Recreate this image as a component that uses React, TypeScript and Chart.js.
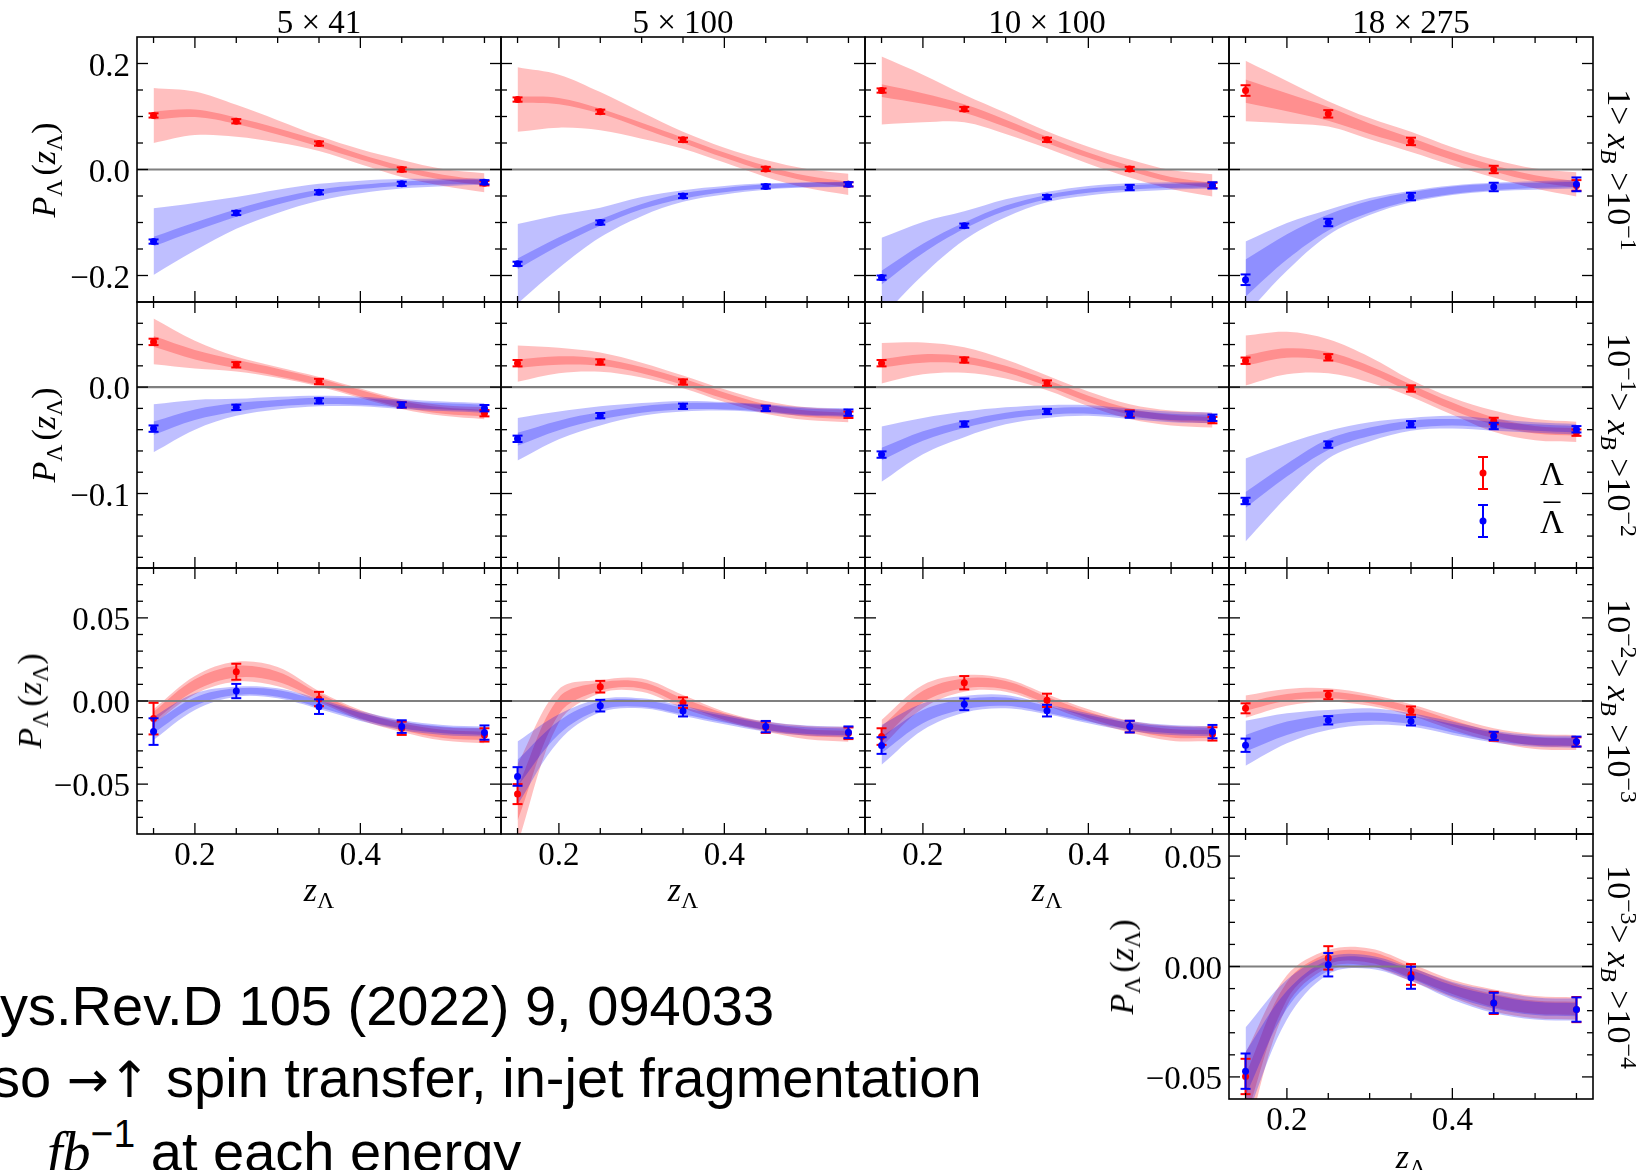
import React, { useEffect, useRef } from "react";
import { Chart, registerables } from "chart.js";

Chart.register(...registerables);

// ---------------- data ----------------
const Z_POINTS = [0.15, 0.25, 0.35, 0.45, 0.55];
const Z_CURVE = [0.15, 0.2, 0.25, 0.3, 0.35, 0.4, 0.45, 0.5, 0.55];

const COLUMN_TITLES = ["5 × 41", "5 × 100", "10 × 100", "18 × 275"];

// panel order: 0-3 row 1 (1>xB>1e-1), 4-7 row 2, 8-11 row 3, 12 row 4 (18×275 only)
const LAMBDA_PTS = [
  [0.102, 0.091, 0.049, 0.0, -0.026],
  [0.132, 0.109, 0.056, 0.001, -0.028],
  [0.149, 0.114, 0.056, 0.001, -0.03],
  [0.149, 0.105, 0.053, 0.0, -0.03],
  [0.0425, 0.021, 0.0053, -0.0167, -0.0245],
  [0.0225, 0.0236, 0.0048, -0.02, -0.026],
  [0.0225, 0.0255, 0.0038, -0.0248, -0.031],
  [0.0248, 0.028, -0.0013, -0.0318, -0.0428],
  [-0.0106, 0.0176, 0.0012, -0.0164, -0.0204],
  [-0.056, 0.0086, -0.001, -0.0158, -0.0194],
  [-0.0214, 0.011, 0.0004, -0.0154, -0.0198],
  [-0.0044, 0.0036, -0.0058, -0.0214, -0.0246],
  [-0.0498, 0.0039, -0.0036, -0.0165, -0.0195],
];
const LAMBDA_ERR = [
  [0.004, 0.004, 0.004, 0.004, 0.004],
  [0.004, 0.004, 0.004, 0.004, 0.004],
  [0.004, 0.004, 0.004, 0.004, 0.005],
  [0.01, 0.007, 0.007, 0.007, 0.01],
  [0.003, 0.0025, 0.0025, 0.0025, 0.003],
  [0.003, 0.0025, 0.0025, 0.0025, 0.003],
  [0.003, 0.0025, 0.0025, 0.003, 0.003],
  [0.003, 0.003, 0.003, 0.003, 0.003],
  [0.0095, 0.0048, 0.0043, 0.004, 0.004],
  [0.006, 0.0035, 0.0032, 0.0034, 0.0035],
  [0.005, 0.004, 0.004, 0.0035, 0.004],
  [0.003, 0.0025, 0.0025, 0.0025, 0.0028],
  [0.008, 0.0053, 0.0047, 0.005, 0.0057],
];
const ALAMBDA_PTS = [
  [-0.136, -0.082, -0.043, -0.027, -0.024],
  [-0.178, -0.1, -0.05, -0.032, -0.028],
  [-0.204, -0.106, -0.052, -0.034, -0.03],
  [-0.208, -0.1, -0.051, -0.033, -0.028],
  [-0.039, -0.019, -0.0129, -0.0167, -0.0198],
  [-0.0486, -0.0268, -0.018, -0.02, -0.024],
  [-0.0634, -0.0347, -0.0229, -0.0258, -0.0288],
  [-0.107, -0.054, -0.0349, -0.0365, -0.0396],
  [-0.0184, 0.006, -0.0034, -0.0154, -0.019],
  [-0.0454, -0.0028, -0.006, -0.0154, -0.0188],
  [-0.0268, -0.002, -0.0058, -0.0154, -0.0184],
  [-0.0266, -0.0116, -0.0122, -0.021, -0.0244],
  [-0.0474, 0.0008, -0.0051, -0.0165, -0.0195],
];
const ALAMBDA_ERR = [
  [0.004, 0.004, 0.004, 0.004, 0.004],
  [0.004, 0.004, 0.004, 0.004, 0.004],
  [0.004, 0.004, 0.004, 0.005, 0.006],
  [0.01, 0.007, 0.007, 0.008, 0.013],
  [0.003, 0.0025, 0.0025, 0.0025, 0.003],
  [0.003, 0.0025, 0.0025, 0.0025, 0.003],
  [0.003, 0.0025, 0.0025, 0.003, 0.003],
  [0.003, 0.003, 0.003, 0.003, 0.003],
  [0.008, 0.0043, 0.0044, 0.0038, 0.0043],
  [0.0056, 0.0035, 0.0033, 0.0034, 0.0035],
  [0.005, 0.0035, 0.0035, 0.0035, 0.004],
  [0.004, 0.0025, 0.0025, 0.0025, 0.003],
  [0.008, 0.0053, 0.005, 0.0046, 0.0055],
];

// theory bands on Z_CURVE: central value, outer and inner half-widths
const LAMBDA_MID = [
  [0.102, 0.106, 0.092, 0.072, 0.049, 0.024, 0.002, -0.015, -0.025],
  [0.132, 0.129, 0.11, 0.083, 0.055, 0.027, 0.002, -0.017, -0.028],
  [0.149, 0.134, 0.115, 0.087, 0.056, 0.027, 0.002, -0.019, -0.03],
  [0.148, 0.127, 0.105, 0.077, 0.052, 0.025, 0.002, -0.017, -0.028],
  [0.043, 0.0305, 0.0217, 0.0138, 0.005, -0.0057, -0.016, -0.022, -0.0245],
  [0.022, 0.025, 0.0235, 0.016, 0.005, -0.008, -0.019, -0.025, -0.027],
  [0.0225, 0.027, 0.0255, 0.017, 0.004, -0.011, -0.023, -0.029, -0.031],
  [0.025, 0.032, 0.029, 0.0164, -0.001, -0.018, -0.032, -0.04, -0.042],
  [-0.0094, 0.0096, 0.0176, 0.0146, 0.0026, -0.0084, -0.0154, -0.0198, -0.021],
  [-0.062, -0.003, 0.0086, 0.0095, -0.0004, -0.0094, -0.0154, -0.019, -0.02],
  [-0.0194, 0.0026, 0.0106, 0.0096, 0.0006, -0.0084, -0.0154, -0.0194, -0.0198],
  [-0.0034, 0.0022, 0.0036, 0.0006, -0.0054, -0.0134, -0.0204, -0.0244, -0.025],
  [-0.059, -0.011, 0.0035, 0.0042, -0.0026, -0.01, -0.0154, -0.0184, -0.019],
];
const LAMBDA_OUTER = [
  [0.052, 0.041, 0.03, 0.021, 0.014, 0.014, 0.016, 0.016, 0.018],
  [0.061, 0.05, 0.036, 0.025, 0.016, 0.014, 0.016, 0.018, 0.02],
  [0.064, 0.045, 0.026, 0.02, 0.016, 0.016, 0.017, 0.018, 0.021],
  [0.057, 0.04, 0.024, 0.02, 0.019, 0.017, 0.017, 0.019, 0.023],
  [0.0215, 0.013, 0.007, 0.005, 0.0045, 0.0045, 0.0045, 0.005, 0.0057],
  [0.017, 0.012, 0.009, 0.007, 0.006, 0.006, 0.006, 0.006, 0.006],
  [0.019, 0.015, 0.012, 0.009, 0.007, 0.007, 0.007, 0.007, 0.007],
  [0.0235, 0.02, 0.016, 0.012, 0.008, 0.008, 0.01, 0.01, 0.0095],
  [0.0045, 0.0055, 0.006, 0.0058, 0.0033, 0.003, 0.0032, 0.004, 0.0044],
  [0.024, 0.01, 0.004, 0.004, 0.004, 0.003, 0.003, 0.004, 0.0045],
  [0.008, 0.007, 0.005, 0.004, 0.0035, 0.0035, 0.0035, 0.0045, 0.0045],
  [0.0067, 0.005, 0.004, 0.0035, 0.0035, 0.004, 0.004, 0.0045, 0.0045],
  [0.02, 0.007, 0.004, 0.004, 0.004, 0.004, 0.005, 0.005, 0.005],
];
const LAMBDA_INNER = [
  [0.008, 0.007, 0.006, 0.006, 0.006, 0.005, 0.005, 0.005, 0.005],
  [0.006, 0.006, 0.005, 0.005, 0.005, 0.005, 0.005, 0.005, 0.005],
  [0.012, 0.01, 0.008, 0.007, 0.006, 0.005, 0.005, 0.005, 0.005],
  [0.022, 0.017, 0.013, 0.01, 0.008, 0.007, 0.006, 0.006, 0.006],
  [0.005, 0.0045, 0.004, 0.0035, 0.003, 0.003, 0.003, 0.003, 0.003],
  [0.004, 0.004, 0.0035, 0.003, 0.003, 0.003, 0.003, 0.003, 0.003],
  [0.004, 0.004, 0.0035, 0.003, 0.003, 0.003, 0.003, 0.003, 0.003],
  [0.005, 0.0045, 0.004, 0.0035, 0.0035, 0.0035, 0.0035, 0.0035, 0.0035],
  [0.003, 0.0035, 0.0035, 0.003, 0.002, 0.002, 0.002, 0.0025, 0.0025],
  [0.01, 0.005, 0.0025, 0.002, 0.002, 0.002, 0.002, 0.002, 0.002],
  [0.004, 0.0035, 0.003, 0.0025, 0.002, 0.002, 0.002, 0.0025, 0.0025],
  [0.0025, 0.002, 0.002, 0.002, 0.002, 0.002, 0.002, 0.0025, 0.0025],
  [0.01, 0.004, 0.0025, 0.0025, 0.0025, 0.0025, 0.003, 0.003, 0.003],
];
const ALAMBDA_MID = [
  [-0.136, -0.108, -0.082, -0.06, -0.043, -0.033, -0.027, -0.0245, -0.023],
  [-0.178, -0.136, -0.1, -0.07, -0.05, -0.039, -0.032, -0.029, -0.028],
  [-0.204, -0.149, -0.106, -0.073, -0.052, -0.04, -0.034, -0.031, -0.03],
  [-0.205, -0.146, -0.1, -0.07, -0.051, -0.039, -0.033, -0.03, -0.028],
  [-0.0387, -0.026, -0.019, -0.015, -0.013, -0.0135, -0.016, -0.018, -0.0195],
  [-0.049, -0.036, -0.027, -0.021, -0.018, -0.018, -0.02, -0.023, -0.024],
  [-0.063, -0.046, -0.035, -0.027, -0.023, -0.022, -0.025, -0.028, -0.029],
  [-0.106, -0.078, -0.054, -0.042, -0.035, -0.033, -0.0355, -0.038, -0.0396],
  [-0.0164, -0.0004, 0.0056, 0.0046, -0.0018, -0.009, -0.0144, -0.0174, -0.0184],
  [-0.0434, -0.016, -0.0028, -0.0014, -0.006, -0.011, -0.0154, -0.0178, -0.0186],
  [-0.0264, -0.0094, -0.002, -0.0004, -0.005, -0.0104, -0.015, -0.0174, -0.0182],
  [-0.0254, -0.0164, -0.0114, -0.0094, -0.0114, -0.0164, -0.0214, -0.024, -0.0246],
  [-0.0486, -0.015, 0.0005, 0.002, -0.0036, -0.011, -0.016, -0.019, -0.0195],
];
const ALAMBDA_OUTER = [
  [0.063, 0.045, 0.03, 0.022, 0.016, 0.012, 0.009, 0.007, 0.006],
  [0.075, 0.05, 0.028, 0.018, 0.011, 0.008, 0.006, 0.005, 0.005],
  [0.075, 0.05, 0.027, 0.017, 0.01, 0.009, 0.008, 0.007, 0.006],
  [0.069, 0.045, 0.024, 0.016, 0.011, 0.009, 0.008, 0.008, 0.008],
  [0.0225, 0.014, 0.008, 0.006, 0.005, 0.0045, 0.0045, 0.0045, 0.0045],
  [0.02, 0.013, 0.009, 0.006, 0.005, 0.004, 0.004, 0.004, 0.004],
  [0.026, 0.017, 0.012, 0.008, 0.006, 0.005, 0.005, 0.005, 0.005],
  [0.039, 0.025, 0.013, 0.009, 0.006, 0.006, 0.0055, 0.005, 0.005],
  [0.007, 0.005, 0.003, 0.003, 0.003, 0.003, 0.003, 0.003, 0.003],
  [0.019, 0.008, 0.004, 0.003, 0.003, 0.003, 0.003, 0.003, 0.003],
  [0.012, 0.008, 0.005, 0.004, 0.003, 0.003, 0.003, 0.003, 0.003],
  [0.0135, 0.009, 0.006, 0.005, 0.004, 0.004, 0.0035, 0.0035, 0.0035],
  [0.021, 0.009, 0.004, 0.003, 0.003, 0.004, 0.005, 0.005, 0.005],
];
const ALAMBDA_INNER = [
  [0.009, 0.008, 0.007, 0.006, 0.005, 0.004, 0.004, 0.004, 0.004],
  [0.01, 0.008, 0.006, 0.005, 0.005, 0.004, 0.004, 0.004, 0.004],
  [0.013, 0.009, 0.006, 0.005, 0.004, 0.004, 0.004, 0.004, 0.004],
  [0.035, 0.024, 0.015, 0.011, 0.008, 0.007, 0.006, 0.005, 0.005],
  [0.0063, 0.005, 0.004, 0.003, 0.003, 0.003, 0.003, 0.003, 0.003],
  [0.006, 0.0045, 0.0035, 0.003, 0.003, 0.003, 0.003, 0.003, 0.003],
  [0.006, 0.0045, 0.0035, 0.003, 0.003, 0.003, 0.003, 0.003, 0.003],
  [0.0075, 0.006, 0.005, 0.004, 0.0035, 0.003, 0.003, 0.003, 0.003],
  [0.003, 0.0025, 0.002, 0.002, 0.002, 0.002, 0.002, 0.002, 0.002],
  [0.008, 0.004, 0.0025, 0.002, 0.002, 0.002, 0.002, 0.002, 0.002],
  [0.005, 0.004, 0.003, 0.0025, 0.002, 0.002, 0.002, 0.002, 0.002],
  [0.005, 0.004, 0.003, 0.0025, 0.0025, 0.0025, 0.0025, 0.0025, 0.0025],
  [0.01, 0.004, 0.0025, 0.002, 0.002, 0.0025, 0.003, 0.003, 0.003],
];

// axes
const X_RANGE = [0.13, 0.57];
const X_MAJOR = [0.2, 0.4];
const X_MAJOR_LABELS = ["0.2", "0.4"];
const X_MINOR = [0.15, 0.25, 0.3, 0.35, 0.45, 0.5, 0.55];

const ROW_Y_RANGE = [
  [-0.25, 0.25],
  [-0.17, 0.08],
  [-0.08, 0.08],
  [-0.06, 0.06],
];
const ROW_Y_MAJOR = [
  [-0.2, 0, 0.2],
  [-0.1, 0],
  [-0.05, 0, 0.05],
  [-0.05, 0, 0.05],
];
const ROW_Y_MAJOR_LABELS = [
  ["−0.2", "0.0", "0.2"],
  ["−0.1", "0.0"],
  ["−0.05", "0.00", "0.05"],
  ["−0.05", "0.00", "0.05"],
];
const ROW_Y_MINOR = [
  [-0.15, -0.1, -0.05, 0.05, 0.1, 0.15],
  [-0.16, -0.14, -0.12, -0.08, -0.06, -0.04, -0.02, 0.02, 0.04, 0.06],
  [-0.07, -0.06, -0.04, -0.03, -0.02, -0.01, 0.01, 0.02, 0.03, 0.04, 0.06, 0.07],
  [-0.04, -0.03, -0.02, -0.01, 0.01, 0.02, 0.03, 0.04],
];

const XB_HIGH_EXP = ["", "−1", "−2", "−3"];
const XB_LOW_EXP = ["−1", "−2", "−3", "−4"];

// ---------------- layout ----------------
const COL_LEFT = [137, 501, 865, 1229];
const ROW_TOP = [37, 302, 568, 834];
const ROW_H = [265, 266, 266, 265];
const PANEL_W = 364;
const PAD = { left: 120, right: 20, top: 20, bottom: 50 };

type PanelLayout = { row: number; col: number; left: number; top: number; w: number; h: number; yLab: boolean; xLab: boolean; legend: boolean };
const PANELS: PanelLayout[] = [];
for (let r = 0; r < 3; r++) {
  for (let c = 0; c < 4; c++) {
    PANELS.push({
      row: r, col: c, left: COL_LEFT[c], top: ROW_TOP[r], w: PANEL_W, h: ROW_H[r],
      yLab: c === 0, xLab: r === 2 && c < 3, legend: r === 1 && c === 3,
    });
  }
}
PANELS.push({ row: 3, col: 3, left: COL_LEFT[3], top: ROW_TOP[3], w: PANEL_W, h: ROW_H[3], yLab: true, xLab: true, legend: false });

const SERIF = '"Liberation Serif", "DejaVu Serif", serif';
const TICK_FONT = 33;
const RED = "#ff0000";
const BLUE = "#0000ff";
const RED_BAND = "rgba(255,0,0,0.25)";
const BLUE_BAND = "rgba(0,0,255,0.25)";

function bandData(mid: number[], hw: number[], sign: number) {
  return Z_CURVE.map((z, i) => ({ x: z, y: mid[i] + sign * hw[i] }));
}

function bandPair(mid: number[], hw: number[], color: string, orderHi: number) {
  const common = { borderWidth: 0, borderColor: "rgba(0,0,0,0)", pointRadius: 0, tension: 0.35, clip: 0 };
  return [
    { ...common, data: bandData(mid, hw, 1), fill: false, order: orderHi },
    { ...common, data: bandData(mid, hw, -1), fill: "-1", backgroundColor: color, order: orderHi - 1 },
  ];
}

function Panel({ idx }: { idx: number }) {
  const ref = useRef<HTMLCanvasElement>(null);
  const p = PANELS[idx];
  const cw = p.w + PAD.left + PAD.right;
  const ch = p.h + PAD.top + PAD.bottom;

  useEffect(() => {
    if (!ref.current) return;
    const row = p.row;
    const pts = (vals: number[]) => Z_POINTS.map((z, i) => ({ x: z, y: vals[i] }));
    const datasets: any[] = [
      ...bandPair(LAMBDA_MID[idx], LAMBDA_OUTER[idx], RED_BAND, 10),
      ...bandPair(LAMBDA_MID[idx], LAMBDA_INNER[idx], RED_BAND, 8),
      ...bandPair(ALAMBDA_MID[idx], ALAMBDA_OUTER[idx], BLUE_BAND, 6),
      ...bandPair(ALAMBDA_MID[idx], ALAMBDA_INNER[idx], BLUE_BAND, 4),
      {
        data: pts(LAMBDA_PTS[idx]), showLine: false, pointRadius: 3.5, pointBorderWidth: 0,
        pointBackgroundColor: RED, borderColor: RED, order: 1, clip: false,
        errorBars: LAMBDA_ERR[idx], barColor: RED, drawZeroLine: true,
      },
      {
        data: pts(ALAMBDA_PTS[idx]), showLine: false, pointRadius: 3.5, pointBorderWidth: 0,
        pointBackgroundColor: BLUE, borderColor: BLUE, order: 0, clip: false,
        errorBars: ALAMBDA_ERR[idx], barColor: BLUE,
      },
    ];

    const line = (ctx: CanvasRenderingContext2D, x1: number, y1: number, x2: number, y2: number) => {
      ctx.beginPath();
      ctx.moveTo(x1, y1);
      ctx.lineTo(x2, y2);
      ctx.stroke();
    };
    const errorBar = (ctx: CanvasRenderingContext2D, x: number, yLo: number, yHi: number) => {
      line(ctx, x, yLo, x, yHi);
      line(ctx, x - 5, yLo, x + 5, yLo);
      line(ctx, x - 5, yHi, x + 5, yHi);
    };

    const decor = {
      id: "panelDecor",
      beforeDatasetDraw(chart: any, args: any) {
        const ds = chart.data.datasets[args.index];
        if (!ds.errorBars) return;
        const ctx: CanvasRenderingContext2D = chart.ctx;
        const a = chart.chartArea;
        const xs = chart.scales.x;
        const ys = chart.scales.y;
        ctx.save();
        if (ds.drawZeroLine) {
          ctx.strokeStyle = "#7f7f7f";
          ctx.lineWidth = 2.2;
          const y0 = ys.getPixelForValue(0);
          line(ctx, a.left, y0, a.right, y0);
        }
        ctx.strokeStyle = ds.barColor;
        ctx.lineWidth = 2;
        ds.data.forEach((pt: any, i: number) => {
          const e = ds.errorBars[i];
          errorBar(ctx, xs.getPixelForValue(pt.x), ys.getPixelForValue(pt.y - e), ys.getPixelForValue(pt.y + e));
        });
        ctx.restore();
      },
      afterDraw(chart: any) {
        const ctx: CanvasRenderingContext2D = chart.ctx;
        const a = chart.chartArea;
        const xs = chart.scales.x;
        const ys = chart.scales.y;
        ctx.save();
        ctx.strokeStyle = "#000";
        ctx.lineWidth = 1.3;
        X_MAJOR.forEach((v) => {
          const px = xs.getPixelForValue(v);
          line(ctx, px, a.bottom, px, a.bottom - 11);
          line(ctx, px, a.top, px, a.top + 11);
        });
        X_MINOR.forEach((v) => {
          const px = xs.getPixelForValue(v);
          line(ctx, px, a.bottom, px, a.bottom - 6);
          line(ctx, px, a.top, px, a.top + 6);
        });
        ROW_Y_MAJOR[row].forEach((v) => {
          const py = ys.getPixelForValue(v);
          line(ctx, a.left, py, a.left + 11, py);
          line(ctx, a.right, py, a.right - 11, py);
        });
        ROW_Y_MINOR[row].forEach((v) => {
          const py = ys.getPixelForValue(v);
          line(ctx, a.left, py, a.left + 6, py);
          line(ctx, a.right, py, a.right - 6, py);
        });
        ctx.lineWidth = 1.6;
        ctx.strokeRect(a.left, a.top, a.right - a.left, a.bottom - a.top);

        ctx.fillStyle = "#000";
        ctx.font = `${TICK_FONT}px ${SERIF}`;
        ctx.textBaseline = "alphabetic";
        if (p.yLab) {
          ctx.textAlign = "right";
          ROW_Y_MAJOR[row].forEach((v, i) => {
            ctx.fillText(ROW_Y_MAJOR_LABELS[row][i], a.left - 7, ys.getPixelForValue(v) + 12);
          });
        }
        if (p.xLab) {
          ctx.textAlign = "center";
          X_MAJOR.forEach((v, i) => {
            ctx.fillText(X_MAJOR_LABELS[i], xs.getPixelForValue(v), a.bottom + 31);
          });
        }
        if (p.legend) {
          const lx = a.left + 254;
          const entries = [
            { color: RED, label: "Λ", bar: false, y: a.top + 171 },
            { color: BLUE, label: "Λ", bar: true, y: a.top + 219 },
          ];
          entries.forEach((en) => {
            ctx.strokeStyle = en.color;
            ctx.fillStyle = en.color;
            ctx.lineWidth = 2;
            errorBar(ctx, lx, en.y + 16, en.y - 16);
            ctx.beginPath();
            ctx.arc(lx, en.y, 3.5, 0, Math.PI * 2);
            ctx.fill();
            ctx.fillStyle = "#000";
            ctx.textAlign = "center";
            ctx.fillText(en.label, a.left + 323, en.y + 12);
            if (en.bar) ctx.fillText("\u00AF", a.left + 323, en.y + 6);
          });
        }
        ctx.restore();
      },
    };

    const chart = new Chart(ref.current, {
      type: "line",
      data: { datasets },
      options: {
        animation: false,
        responsive: false,
        devicePixelRatio: 1,
        events: [],
        layout: { padding: PAD },
        scales: {
          x: { type: "linear", min: X_RANGE[0], max: X_RANGE[1], display: false },
          y: { type: "linear", min: ROW_Y_RANGE[row][0], max: ROW_Y_RANGE[row][1], display: false },
        },
        plugins: { legend: { display: false }, tooltip: { enabled: false } },
      } as any,
      plugins: [decor as any],
    });
    return () => chart.destroy();
  }, []);

  return (
    <canvas
      ref={ref}
      width={cw}
      height={ch}
      style={{ position: "absolute", left: p.left - PAD.left, top: p.top - PAD.top, width: cw, height: ch }}
    />
  );
}

const subS: React.CSSProperties = { fontSize: "0.7em", verticalAlign: "-0.3em", lineHeight: 0 };
const supS: React.CSSProperties = { fontSize: "0.7em", verticalAlign: "0.55em", lineHeight: 0 };

function Centered({ x, y, rot, children, size = 34 }: { x: number; y: number; rot?: number; children: React.ReactNode; size?: number }) {
  return (
    <div
      style={{
        position: "absolute",
        left: x,
        top: y,
        transform: `translate(-50%, -50%)${rot ? ` rotate(${rot}deg)` : ""}`,
        whiteSpace: "nowrap",
        fontFamily: SERIF,
        fontSize: size,
        lineHeight: 1,
        color: "#000",
      }}
    >
      {children}
    </div>
  );
}

function YLabel() {
  return (
    <span>
      <i>P</i>
      <span style={subS}>Λ</span>
      <span style={{ marginLeft: 4 }}>(</span>
      <i>z</i>
      <span style={subS}>Λ</span>)
    </span>
  );
}

function XLabel() {
  return (
    <span>
      <i>z</i>
      <span style={subS}>Λ</span>
    </span>
  );
}

function BinLabel({ r }: { r: number }) {
  return (
    <span>
      {r === 0 ? "1" : "10"}
      {XB_HIGH_EXP[r] && <span style={supS}>{XB_HIGH_EXP[r]}</span>}
      {"> "}
      <i>x</i>
      <span style={subS}>
        <i>B</i>
      </span>
      {" >10"}
      <span style={supS}>{XB_LOW_EXP[r]}</span>
    </span>
  );
}

export default function App() {
  const rowCenter = (r: number) => ROW_TOP[r] + ROW_H[r] / 2;
  const colCenter = (c: number) => COL_LEFT[c] + PANEL_W / 2;
  const sans = '"Liberation Sans", Arial, sans-serif';
  const textLine: React.CSSProperties = { position: "absolute", fontFamily: sans, fontSize: 56, lineHeight: 1, whiteSpace: "nowrap", color: "#000" };
  return (
    <div style={{ position: "absolute", left: 0, top: 0, width: 1642, height: 1170, overflow: "hidden", background: "#fff" }}>
      {PANELS.map((_, i) => (
        <Panel key={i} idx={i} />
      ))}
      {COLUMN_TITLES.map((t, c) => (
        <Centered key={"t" + c} x={colCenter(c)} y={22} size={33}>
          {t}
        </Centered>
      ))}
      <Centered x={44} y={rowCenter(0)} rot={-90}><YLabel /></Centered>
      <Centered x={44} y={rowCenter(1)} rot={-90}><YLabel /></Centered>
      <Centered x={30} y={rowCenter(2)} rot={-90}><YLabel /></Centered>
      <Centered x={1122} y={rowCenter(3)} rot={-90}><YLabel /></Centered>
      {[0, 1, 2].map((c) => (
        <Centered key={"x" + c} x={colCenter(c)} y={890}><XLabel /></Centered>
      ))}
      <Centered x={colCenter(3)} y={1157}><XLabel /></Centered>
      {[0, 1, 2, 3].map((r) => (
        <Centered key={"b" + r} x={1619} y={rowCenter(r)} rot={90}><BinLabel r={r} /></Centered>
      ))}

      <div style={{ ...textLine, left: 0, top: 978 }}>ys.Rev.D 105 (2022) 9, 094033</div>
      <div style={{ ...textLine, left: -8, top: 1050 }}>
        so <span style={{ fontFamily: '"DejaVu Sans", sans-serif', fontSize: 50 }}>→↑</span> spin transfer, in-jet fragmentation
      </div>
      <div style={{ ...textLine, left: 47, top: 1124 }}>
        <span style={{ fontFamily: SERIF, fontStyle: "italic" }}>fb</span>
        <span style={{ fontSize: "0.7em", verticalAlign: "0.6em", lineHeight: 0 }}>−1</span> at each energy
      </div>
    </div>
  );
}
